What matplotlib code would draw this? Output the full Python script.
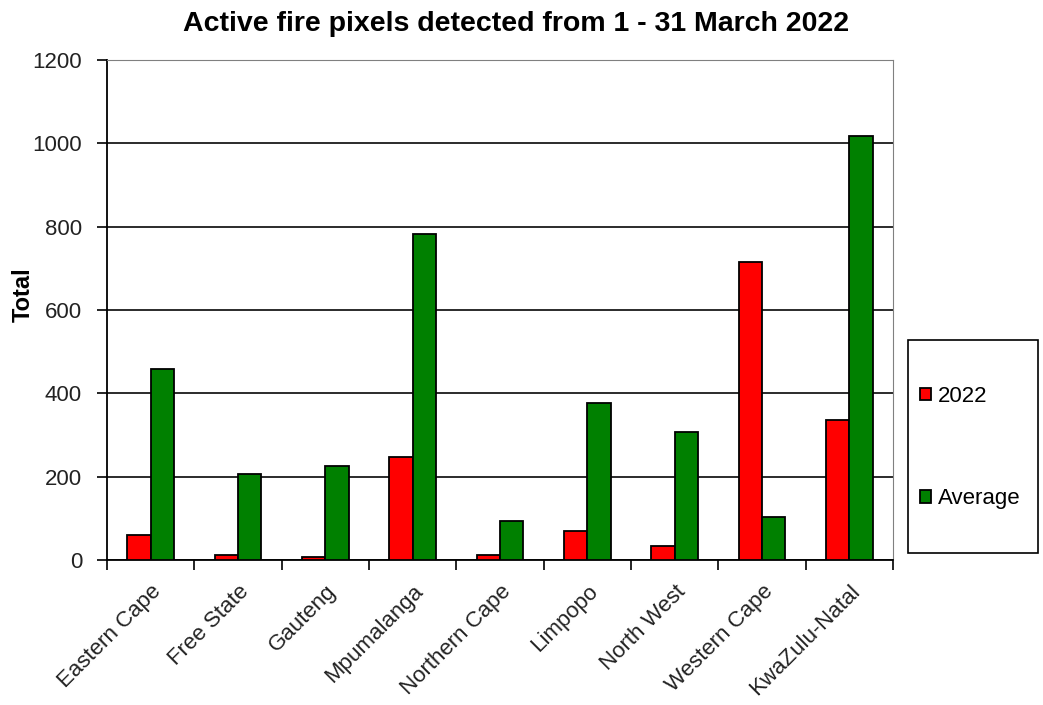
import matplotlib
matplotlib.use("Agg")
from matplotlib import pyplot as plt
from matplotlib.ticker import FixedLocator
from matplotlib.patches import Rectangle
import numpy as np

plt.rcParams['font.family'] = ['Liberation Sans', 'DejaVu Sans']

provinces = ["Eastern Cape", "Free State", "Gauteng", "Mpumalanga", "Northern Cape",
             "Limpopo", "North West", "Western Cape", "KwaZulu-Natal"]
fires_2022 = [60, 13, 8, 246, 12, 69, 34, 714, 337]
fires_avg = [458, 207, 225, 783, 94, 377, 306, 103, 1018]
y_ticks = [0, 200, 400, 600, 800, 1000, 1200]

fig = plt.figure(figsize=(10.43, 7.05), dpi=100)
ax = fig.add_axes([0.1026, 0.2057, 0.7536, 0.7092])

x = np.arange(len(provinces))
w = 0.268
ax.bar(x - w / 2, fires_2022, w, color="#ff0000", edgecolor="black", linewidth=1.3,
       label="2022", zorder=3)
ax.bar(x + w / 2, fires_avg, w, color="#008000", edgecolor="black", linewidth=1.3,
       label="Average", zorder=3)

ax.set_xlim(-0.5, len(provinces) - 0.5)
ax.set_ylim(0, 1200)
ax.set_yticks(y_ticks)
ax.yaxis.grid(True, color="#1a1a1a", linewidth=1.3, zorder=0)
ax.tick_params(axis="y", labelsize=16, length=7, width=1.2, direction="out", pad=11,
               labelcolor="#222222")

ax.set_xticks(x)
ax.set_xticklabels(provinces, rotation=45, ha="right", rotation_mode="anchor", fontsize=16,
                   color="#222222")
ax.tick_params(axis="x", which="major", length=0, pad=15)
ax.xaxis.set_minor_locator(FixedLocator(np.arange(-0.5, len(provinces), 1.0)))
ax.tick_params(axis="x", which="minor", length=7, width=1.2, direction="out")

ax.spines["left"].set_color("black")
ax.spines["left"].set_linewidth(1.3)
ax.spines["bottom"].set_color("black")
ax.spines["bottom"].set_linewidth(1.3)
ax.spines["top"].set_color("#808080")
ax.spines["right"].set_color("#808080")

fig.text(0.022, 0.582, "Total", rotation=90, ha="center", va="center",
         fontsize=17, fontweight="bold")
fig.suptitle("Active fire pixels detected from 1 - 31 March 2022", x=0.495, y=0.985,
             fontsize=20.5, fontweight="bold")

# legend box drawn as a separate frame, entries placed inside it
fig.patches.append(Rectangle((0.8706, 0.2156), 0.1246, 0.3021, transform=fig.transFigure,
                             facecolor="white", edgecolor="black", linewidth=1.2))
leg = fig.legend(loc="center left", bbox_to_anchor=(0.882, 0.3652), fontsize=16,
                 frameon=False, handlelength=0.5, handleheight=0.5, handletextpad=0.3,
                 labelspacing=3.65, borderpad=0, borderaxespad=0)

plt.savefig("out.png", dpi=100)
